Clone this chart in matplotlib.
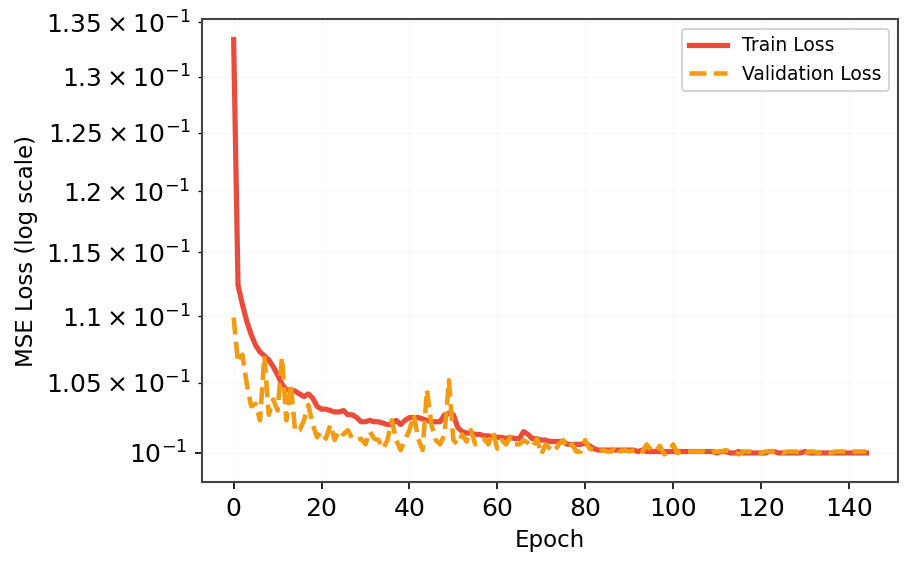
import matplotlib
matplotlib.use("Agg")
import matplotlib.pyplot as plt
import numpy as np

plt.rcParams.update({"font.family": "DejaVu Sans"})

TRAIN_COLOR = "#E74C3C"
VAL_COLOR = "#F39C12"

# loss per epoch
train_loss = [
    0.1334, 0.1124, 0.1109, 0.1096, 0.1086, 0.1078, 0.1073, 0.1070, 0.1067, 0.1062,
    0.1056, 0.1049, 0.1045, 0.1045, 0.1044, 0.1042, 0.1040, 0.1042, 0.1039, 0.1033,
    0.1031, 0.1031, 0.1030, 0.1029, 0.1029, 0.1030, 0.1027, 0.1027, 0.1025, 0.1022,
    0.1022, 0.1023, 0.1022, 0.1022, 0.1021, 0.1020, 0.1020, 0.1023, 0.1020, 0.1023,
    0.1025, 0.1025, 0.1025, 0.1024, 0.1023, 0.1022, 0.1022, 0.1022, 0.1027, 0.1028,
    0.1027, 0.1018, 0.1015, 0.1014, 0.1014, 0.1013, 0.1013, 0.1012, 0.1012, 0.1011,
    0.1011, 0.1011, 0.1010, 0.1011, 0.1010, 0.1010, 0.1015, 0.1013, 0.1010, 0.1010,
    0.1009, 0.1009, 0.1008, 0.1008, 0.1008, 0.1008, 0.1006, 0.1006, 0.1006, 0.1006,
    0.1007, 0.1005, 0.1003, 0.1002, 0.1002, 0.1002, 0.1002, 0.1002, 0.1002, 0.1002,
    0.1002, 0.1002, 0.1001, 0.1002, 0.1001, 0.1001, 0.1001, 0.1001, 0.1001, 0.1001,
    0.1001, 0.1001, 0.1001, 0.1001, 0.1001, 0.1001, 0.1001, 0.1001, 0.1001, 0.1001,
    0.1000, 0.1001, 0.1001, 0.1000, 0.1000, 0.1001, 0.1000, 0.1000, 0.1000, 0.1000,
    0.1000, 0.1000, 0.1001, 0.1001, 0.1000, 0.1000, 0.1000, 0.1000, 0.1000, 0.1000,
    0.1001, 0.1000, 0.1000, 0.1000, 0.1000, 0.1000, 0.1000, 0.1000, 0.1000, 0.1000,
    0.1000, 0.1000, 0.1000, 0.1000, 0.1000,
]

val_loss = [
    0.1099, 0.1065, 0.1071, 0.1049, 0.1033, 0.1035, 0.1023, 0.1070, 0.1027, 0.1038,
    0.1030, 0.1069, 0.1023, 0.1049, 0.1015, 0.1016, 0.1023, 0.1034, 0.1020, 0.1011,
    0.1015, 0.1010, 0.1020, 0.1009, 0.1016, 0.1013, 0.1016, 0.1010, 0.1009, 0.1010,
    0.1006, 0.1015, 0.1010, 0.1009, 0.1003, 0.1009, 0.1023, 0.1009, 0.1002, 0.1009,
    0.1016, 0.1027, 0.1010, 0.1002, 0.1045, 0.1020, 0.1009, 0.1006, 0.1013, 0.1052,
    0.1009, 0.1006, 0.1013, 0.1008, 0.1016, 0.1006, 0.1009, 0.1010, 0.1006, 0.1015,
    0.1003, 0.1009, 0.1006, 0.1011, 0.1006, 0.1006, 0.1009, 0.1007, 0.1004, 0.1010,
    0.0999, 0.1006, 0.1003, 0.1001, 0.1006, 0.1009, 0.1003, 0.1006, 0.1001, 0.1001,
    0.1009, 0.1003, 0.1002, 0.1001, 0.1002, 0.1001, 0.1001, 0.1005, 0.1001, 0.1002,
    0.1001, 0.1002, 0.1003, 0.1001, 0.1006, 0.1002, 0.1001, 0.1005, 0.0999, 0.1001,
    0.1006, 0.1000, 0.1001, 0.1001, 0.1001, 0.1001, 0.1001, 0.1001, 0.1000, 0.1001,
    0.1001, 0.1001, 0.1002, 0.1001, 0.1000, 0.0999, 0.1001, 0.1001, 0.1001, 0.1001,
    0.1000, 0.1001, 0.1001, 0.1001, 0.1001, 0.1000, 0.1001, 0.1001, 0.1001, 0.1000,
    0.0999, 0.1001, 0.1001, 0.1000, 0.1001, 0.1001, 0.1000, 0.1001, 0.1001, 0.1001,
    0.1000, 0.1001, 0.1001, 0.1001, 0.1001,
]

epochs = np.arange(len(train_loss))

fig, ax = plt.subplots(figsize=(914 / 150, 567 / 150), dpi=150)
fig.subplots_adjust(left=0.221, right=0.9825, top=0.966, bottom=0.150)

ax.plot(epochs, train_loss, color=TRAIN_COLOR, linewidth=2.5, label="Train Loss")
ax.plot(epochs, val_loss, color=VAL_COLOR, linewidth=2.2, linestyle="--",
        label="Validation Loss")
ax.set_yscale("log")
ax.set_ylim(0.0980, 0.1353)

ax.set_xlabel("Epoch", fontsize=11)
ax.set_ylabel("MSE Loss (log scale)", fontsize=11)
ax.tick_params(axis="both", which="both", labelsize=12)
ax.grid(True, which="both", alpha=0.08, linewidth=0.6)
for s in ax.spines.values():
    s.set_color("#444444")
    s.set_linewidth(1.0)
ax.legend(loc="upper right", fontsize=9)

fig.savefig("out.png", dpi=150)
